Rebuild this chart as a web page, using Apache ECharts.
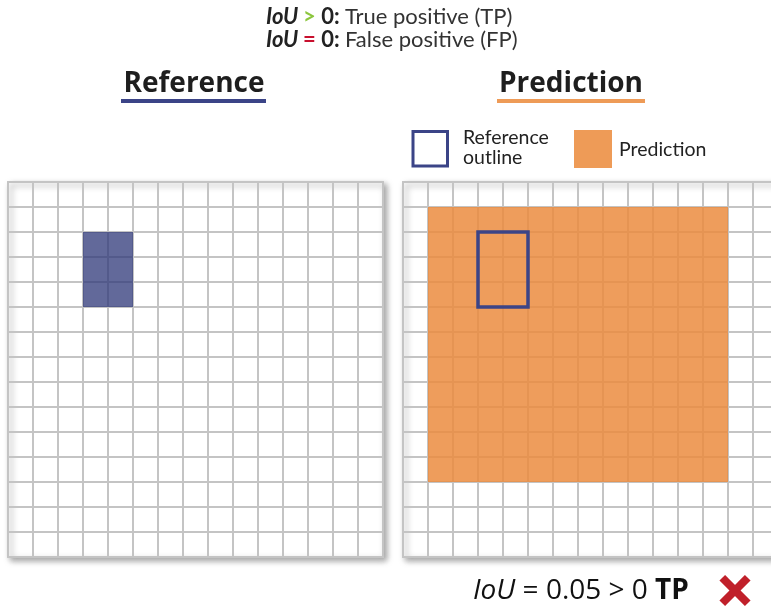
<!DOCTYPE html>
<html><head><meta charset="utf-8">
<script src="https://cdn.jsdelivr.net/npm/echarts@6/dist/echarts.min.js"></script>
<style>html,body{margin:0;padding:0;background:#fff}#c{width:771px;height:611px}</style>
</head><body><div id="c"></div>
<script>
const gridCols = 15;
const gridRows = 15;
const referenceBox = [[3, 2, 5, 5]];      // x0, y0, x1, y1 in cells
const predictionBox = [[1, 1, 13, 12]];   // x0, y0, x1, y1 in cells
const panelTitles = ['Reference', 'Prediction'];
const legendLabels = ['Reference\noutline', 'Prediction'];
const iouValue = '0.05';

const NAVY = '#3b4487', ORANGE = '#ee9b57', GREEN = '#8cc63e', RED = '#c8102e';
const FONT = 'Lato';

function boxItem(style) {
  return function (params, api) {
    const p0 = api.coord([api.value(0), api.value(1)]);
    const p1 = api.coord([api.value(2), api.value(3)]);
    return {
      type: 'rect',
      shape: { x: Math.min(p0[0], p1[0]), y: Math.min(p0[1], p1[1]),
               width: Math.abs(p1[0] - p0[0]), height: Math.abs(p1[1] - p0[1]) },
      style: style
    };
  };
}

const gridStyle = {
  top: 182, width: 375, height: 375, show: true, backgroundColor: '#fff',
  outerBoundsMode: 'none', containLabel: false,
  borderColor: '#c6c6c6', borderWidth: 2,
  shadowColor: 'rgba(0,0,0,0.35)', shadowBlur: 6, shadowOffsetX: 3, shadowOffsetY: 3
};
function axis(idx, max, inverse) {
  return {
    type: 'value', gridIndex: idx, min: 0, max: max, interval: 1, inverse: inverse,
    axisLine: { show: false }, axisTick: { show: false }, axisLabel: { show: false },
    splitLine: { show: true, lineStyle: { color: '#c4c4c4', width: 2 } }
  };
}

const chart = echarts.init(document.getElementById('c'), null, { renderer: 'canvas' });
const FS = 22;
const titleRich = {
  i: { fontFamily: FONT, fontSize: FS, fontWeight: 'bold', fontStyle: 'italic', fill: '#222' },
  b: { fontFamily: FONT, fontSize: FS, fontWeight: 'bold', fill: '#222' },
  g: { fontFamily: FONT, fontSize: FS, fontWeight: 'bold', fill: GREEN },
  r: { fontFamily: FONT, fontSize: FS, fontWeight: 'bold', fill: RED },
  n: { fontFamily: FONT, fontSize: FS, fill: '#333' }
};
chart.setOption({
  animation: false,
  grid: [
    Object.assign({ left: 8 }, gridStyle),
    Object.assign({ left: 403 }, gridStyle)
  ],
  xAxis: [axis(0, gridCols, false), axis(1, gridCols, false)],
  yAxis: [axis(0, gridRows, true), axis(1, gridRows, true)],
  series: [
    { type: 'custom', name: 'Reference', xAxisIndex: 0, yAxisIndex: 0, data: referenceBox,
      encode: { x: [0, 2], y: [1, 3] },
      renderItem: boxItem({ fill: 'rgba(46,55,120,0.75)' }) },
    { type: 'custom', name: 'Prediction', xAxisIndex: 1, yAxisIndex: 1, data: predictionBox,
      encode: { x: [0, 2], y: [1, 3] },
      renderItem: boxItem({ fill: 'rgba(235,140,63,0.85)' }) },
    { type: 'custom', name: 'Reference outline', xAxisIndex: 1, yAxisIndex: 1, data: referenceBox,
      encode: { x: [0, 2], y: [1, 3] }, z: 5,
      renderItem: boxItem({ fill: 'none', stroke: NAVY, lineWidth: 3.5 }) }
  ],
  graphic: [
    { type: 'text', x: 266, y: 17, style: { text: '{i|IoU }{g|> }{b|0: }{n|True positive (TP)}',
      verticalAlign: 'middle', rich: titleRich } },
    { type: 'text', x: 266, y: 40, style: { text: '{i|IoU }{r|= }{b|0: }{n|False positive (FP)}',
      verticalAlign: 'middle', rich: titleRich } },
    { type: 'text', x: 194, y: 84, style: { text: panelTitles[0], fontFamily: 'Open Sans', fontSize: 28,
      fontWeight: 'bold', fill: '#1e1e1e', align: 'center', verticalAlign: 'middle' } },
    { type: 'rect', shape: { x: 121, y: 99, width: 145, height: 4 }, style: { fill: NAVY } },
    { type: 'text', x: 571, y: 84, style: { text: panelTitles[1], fontFamily: 'Open Sans', fontSize: 28,
      fontWeight: 'bold', fill: '#1e1e1e', align: 'center', verticalAlign: 'middle' } },
    { type: 'rect', shape: { x: 497, y: 99, width: 148, height: 4 }, style: { fill: ORANGE } },
    { type: 'rect', shape: { x: 413, y: 131.5, width: 34.5, height: 34.5 },
      style: { fill: '#fff', stroke: NAVY, lineWidth: 3 } },
    { type: 'text', x: 463, y: 148, style: { text: legendLabels[0], fontFamily: FONT, fontSize: 19.5,
      lineHeight: 20, fill: '#222', verticalAlign: 'middle' } },
    { type: 'rect', shape: { x: 574, y: 130, width: 38, height: 38 }, style: { fill: ORANGE } },
    { type: 'text', x: 619, y: 150, style: { text: legendLabels[1], fontFamily: FONT, fontSize: 19.5,
      fill: '#222', verticalAlign: 'middle' } },
    { type: 'text', x: 473, y: 591, style: {
      text: '{i|IoU }{n|= ' + iouValue + ' > 0 }{b|TP}', verticalAlign: 'middle',
      rich: {
        i: { fontFamily: 'Open Sans', fontSize: 28, fontStyle: 'italic', fill: '#111' },
        n: { fontFamily: 'Open Sans', fontSize: 28, fill: '#111' },
        b: { fontFamily: 'Open Sans', fontSize: 28, fontWeight: 'bold', fill: '#111' }
      } } },
    { type: 'group', x: 735, y: 590.5, children: [
      { type: 'rect', rotation: Math.PI / 4, shape: { x: -18, y: -4, width: 36, height: 8 }, style: { fill: '#c0202a' } },
      { type: 'rect', rotation: -Math.PI / 4, shape: { x: -18, y: -4, width: 36, height: 8 }, style: { fill: '#c0202a' } }
    ] }
  ]
});
</script></body></html>
